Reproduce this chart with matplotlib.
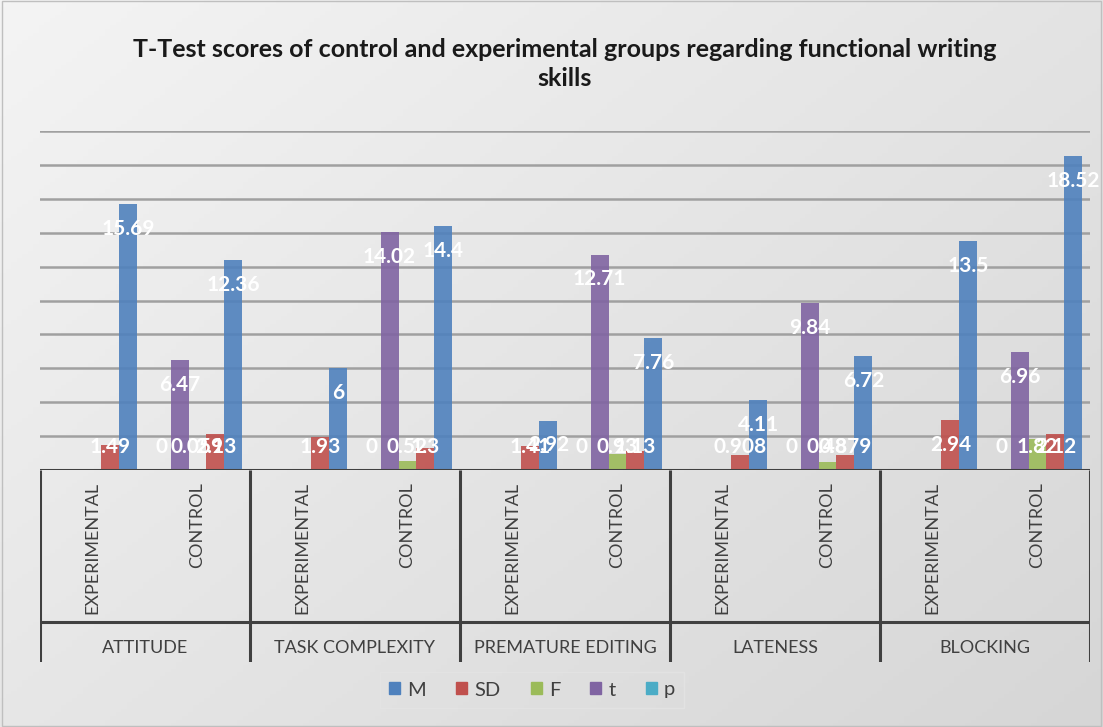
import numpy as np
import matplotlib.pyplot as plt
from matplotlib.patches import Patch
from matplotlib.colors import LinearSegmentedColormap

groups = ["ATTITUDE", "TASK COMPLEXITY", "PREMATURE EDITING", "LATENESS", "BLOCKING"]
subgroups = ["EXPERIMENTAL", "CONTROL"]

# values per sub-category: EXP, CTRL for each group in order (nan = empty cell)
nan = np.nan
M = [15.69, 12.36, 6, 14.4, 2.92, 7.76, 4.11, 6.72, 13.5, 18.52]
SD = [1.49, 2.13, 1.93, 1.3, 1.41, 1.13, 0.908, 0.879, 2.94, 2.12]
F = [nan, 0.059, nan, 0.52, nan, 0.93, nan, 0.48, nan, 1.82]
t = [nan, 6.47, nan, 14.02, nan, 12.71, nan, 9.84, nan, 6.96]
p = [nan, 0, nan, 0, nan, 0, nan, 0, nan, 0]

series = [("M", M, "#4F81BD"), ("SD", SD, "#C0504D"), ("F", F, "#9BBB59"),
          ("t", t, "#8064A2"), ("p", p, "#4BACC6")]
# clusters are drawn in reverse order (p left ... M right)
slot = {"p": -2, "t": -1, "F": 0, "SD": 1, "M": 2}

W, H = 1103, 727
fig = plt.figure(figsize=(W / 100, H / 100), dpi=100)

# gradient background
bg = fig.add_axes([0, 0, 1, 1], zorder=-10)
gx, gy = np.meshgrid(np.linspace(0, 1, 200), np.linspace(0, 1, 200))
grad = 0.55 * gx + 0.45 * gy
bg.imshow(grad, cmap=LinearSegmentedColormap.from_list("g", ["#f4f4f4", "#d6d6d6"]),
          aspect="auto", extent=[0, 1, 0, 1], origin="upper")
bg.add_patch(plt.Rectangle((0.002, 0.002), 0.996, 0.996, fill=False, ec="#bfbfbf", lw=1))
bg.set_xlim(0, 1)
bg.set_ylim(0, 1)
bg.axis("off")

fig.text(565 / W, 1 - 64 / H,
         "T-Test scores of control and experimental groups regarding functional writing\nskills",
         ha="center", va="center", fontsize=18, fontweight="bold", family="Lato",
         color="#1a1a1a", linespacing=1.3)

ax = fig.add_axes([40 / W, (H - 470) / H, 1050 / W, (470 - 131) / H])
ax.patch.set_alpha(0)
ax.set_xlim(-0.5, 9.5)
ax.set_ylim(0, 20)
ax.set_yticks(range(2, 21, 2))
ax.set_xticks([])
ax.tick_params(left=False, labelleft=False)
ax.grid(axis="y", color="#a0a0a0", lw=1.8)
ax.set_axisbelow(True)
for s in ax.spines.values():
    s.set_visible(False)
ax.axhline(0, color="#404040", lw=2.2, zorder=5)

x = np.arange(len(M))
w = 0.171
for name, vals, col in series:
    vals = np.array(vals, dtype=float)
    xs = x + slot[name] * w
    ax.bar(xs, vals, w, color=col, alpha=0.9, zorder=3)
for name, vals, col in series:
    xs = x + slot[name] * w
    for xi, v in zip(xs, vals):
        if np.isnan(v):
            continue
        ax.text(xi, max(v - 1.47, 1.35), f"{v:g}", ha="center", va="center",
                color="white", fontsize=15, fontweight="bold", family="Lato", zorder=6)

# multi-level category axis
cax = fig.add_axes([40 / W, (H - 662) / H, 1050 / W, (662 - 470) / H])
cax.set_xlim(-0.5, 9.5)
cax.set_ylim(662, 470)
cax.axis("off")
for b in np.arange(-0.5, 10, 2):
    cax.plot([b, b], [470, 662], color="#404040", lw=2.2, solid_capstyle="butt")
cax.plot([-0.5, 9.5], [622, 622], color="#404040", lw=2.2)
for i in range(len(M)):
    cax.text(i, 482, subgroups[i % 2], rotation=90, ha="center", va="top",
             fontsize=13, family="Lato", color="#404040")
for g, name in enumerate(groups):
    cax.text(2 * g + 0.5, 648, name, ha="center", va="center",
             fontsize=13, family="Lato", color="#404040")

handles = [Patch(color=c, label=n) for n, _, c in series]
leg = fig.legend(handles=handles, loc="center", bbox_to_anchor=(532 / W, 1 - 690 / H),
                 ncol=5, frameon=True, handlelength=0.55, handleheight=0.55,
                 handletextpad=0.35, columnspacing=1.5, borderpad=0.45,
                 prop={"family": "Lato", "size": 14.5})
leg.get_frame().set_facecolor("none")
leg.get_frame().set_edgecolor("#e4e4e4")
leg.get_frame().set_boxstyle("square", pad=0)
for txt in leg.get_texts():
    txt.set_color("#404040")

fig.savefig("out.png", dpi=100)
